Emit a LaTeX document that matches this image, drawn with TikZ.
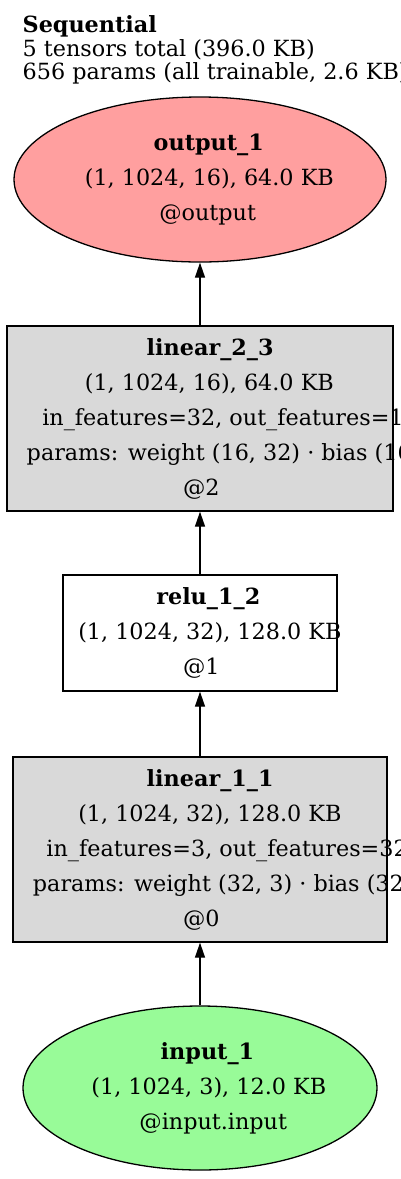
\documentclass[tikz,border=0pt]{standalone}
\usepackage{fontspec}
\setmainfont{DejaVu Serif}
\usetikzlibrary{shapes.geometric,arrows.meta}

\definecolor{outfill}{HTML}{FF9F9F}
\definecolor{infill}{HTML}{98FB98}
\definecolor{layerfill}{HTML}{D9D9D9}

% shift a line to the right by part of its own width
\newcommand{\gvline}[2][0.075]{\setbox0=\hbox{#2}\hspace*{#1\wd0}\box0}

\begin{document}
\begin{tikzpicture}[x=1pt,y=-1pt,>={Triangle[length=15pt,width=10pt]},line width=1.3pt,
  font=\fontsize{22.3}{35}\selectfont,
  tensorshape/.style={draw,ellipse,inner sep=0pt},
  layerbox/.style={draw,rectangle,fill=layerfill,inner sep=0pt},
  lbl/.style={align=center,inner sep=0pt}]
  \useasboundingbox (0,0) rectangle (400,1179);

  \node[anchor=north west,align=left,inner sep=0pt,font=\fontsize{22.3}{23.5}\selectfont] (title) at (22,15)
    {\textbf{Sequential}\\5 tensors total (396.0 KB)\\656 params (all trainable, 2.6 KB)};

  \node[tensorshape,fill=outfill,minimum width=372pt,minimum height=165pt] (out) at (200,179.5) {};
  \node[layerbox,minimum width=386pt,minimum height=185pt] (lin2) at (200,418.5) {};
  \node[layerbox,fill=white,minimum width=274pt,minimum height=116pt] (relu) at (200,633) {};
  \node[layerbox,minimum width=374pt,minimum height=185pt] (lin1) at (200,849.5) {};
  \node[tensorshape,fill=infill,minimum width=354pt,minimum height=164pt] (inp) at (200,1088) {};

  \node[lbl] (outtxt) at (out.center) {\gvline[0.16]{\textbf{output\_1}}\\\gvline{(1, 1024, 16), 64.0 KB}\\\gvline[0.16]{@output}};
  \node[lbl] (lin2txt) at (lin2.center) {\gvline[0.16]{\textbf{linear\_2\_3}}\\\gvline{(1, 1024, 16), 64.0 KB}\\\gvline[0.16]{in\_features=32, out\_features=16}\\\gvline[0.12]{params: weight (16, 32) · bias (16)}\\\gvline{@2}};
  \node[lbl] (relutxt) at (relu.center) {\gvline[0.16]{\textbf{relu\_1\_2}}\\\gvline{(1, 1024, 32), 128.0 KB}\\\gvline{@1}};
  \node[lbl] (lin1txt) at (lin1.center) {\gvline[0.16]{\textbf{linear\_1\_1}}\\\gvline{(1, 1024, 32), 128.0 KB}\\\gvline[0.15]{in\_features=3, out\_features=32}\\\gvline[0.12]{params: weight (32, 3) · bias (32)}\\\gvline{@0}};
  \node[lbl] (inptxt) at (inp.center) {\gvline[0.16]{\textbf{input\_1}}\\\gvline{(1, 1024, 3), 12.0 KB}\\\gvline[0.18]{@input.input}};

  \draw[->] (inp) -- (lin1);
  \draw[->] (lin1) -- (relu);
  \draw[->] (relu) -- (lin2);
  \draw[->] (lin2) -- (out);
\end{tikzpicture}
\end{document}
